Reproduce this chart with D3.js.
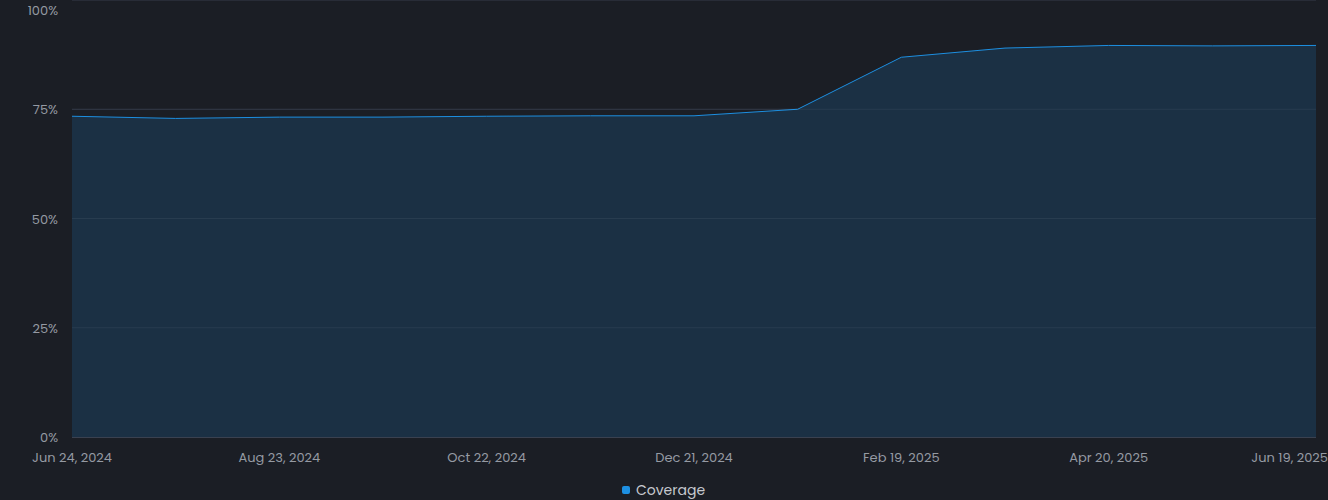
<!DOCTYPE html>
<html><head><meta charset="utf-8">
<script src="https://cdn.jsdelivr.net/npm/d3@7"></script>
<style>
body{margin:0;background:#1b1e25;font-family:Poppins,"Open Sans",sans-serif;}
</style></head>
<body><svg id="c" width="1328" height="500"></svg>
<script>
// coverage samples, every 30 days
const dates = ['2024-06-24','2024-07-24','2024-08-23','2024-09-22','2024-10-22','2024-11-21','2024-12-21','2025-01-20','2025-02-19','2025-03-21','2025-04-20','2025-05-20','2025-06-19']
const coverage = [73.4, 72.9, 73.2, 73.2, 73.4, 73.5, 73.5, 75.0, 86.9, 89.0, 89.6, 89.5, 89.6]
const tickDates = ['2024-06-24','2024-08-23','2024-10-22','2024-12-21','2025-02-19','2025-04-20','2025-06-19']
const yTicks = [0, 25, 50, 75, 100]

const parse = d3.utcParse('%Y-%m-%d')
const data = dates.map((d, i) => ({date: parse(d), value: coverage[i]}))

const svg = d3.select('#c')
const x = d3.scaleUtc().domain(d3.extent(data, d => d.date)).range([72, 1316])
const y = d3.scaleLinear().domain([0, 100]).range([437, 0])

// grid
svg.selectAll('.grid').data(yTicks).enter().append('line')
  .attr('x1', 72).attr('x2', 1316)
  .attr('y1', d => y(d)).attr('y2', d => y(d))
  .attr('stroke', '#2a3140').attr('stroke-width', 1)

const area = d3.area().x(d => x(d.date)).y0(y(0)).y1(d => y(d.value))
svg.append('path').datum(data).attr('d', area).attr('fill', '#1b3044')
const line = d3.line().x(d => x(d.date)).y(d => y(d.value))
svg.append('path').datum(data).attr('d', line).attr('fill', 'none').attr('stroke', '#1d8fe1').attr('stroke-width', 1)

svg.selectAll('.gridTop').data(yTicks.filter(d => d > 0)).enter().append('line')
  .attr('x1', 72).attr('x2', 1316)
  .attr('y1', d => y(d)).attr('y2', d => y(d))
  .attr('stroke', '#ffffff').attr('stroke-opacity', 0.06)

svg.append('line').attr('x1', 72).attr('x2', 1316).attr('y1', 437.5).attr('y2', 437.5).attr('stroke', '#3a4150')

// y labels
svg.selectAll('.yl').data(yTicks).enter().append('text')
  .attr('x', 58).attr('y', d => Math.max(y(d) + 5, 15)).attr('text-anchor', 'end')
  .attr('fill', '#959aa3').attr('font-size', 13)
  .text(d => d + '%')

const fmt = d3.utcFormat('%b %d, %Y')
svg.selectAll('.xl').data(tickDates.map(parse)).enter().append('text')
  .attr('x', (d, i) => i === tickDates.length - 1 ? 1328 : x(d))
  .attr('y', 462)
  .attr('text-anchor', (d, i) => i === tickDates.length - 1 ? 'end' : 'middle')
  .attr('fill', '#959aa3').attr('font-size', 13)
  .text(fmt)

// legend
svg.append('rect').attr('x', 622).attr('y', 486).attr('width', 8).attr('height', 8).attr('rx', 2).attr('fill', '#1d8fe1')
svg.append('text').attr('x', 636).attr('y', 495).attr('fill', '#c6c9cf').attr('font-size', 14).text('Coverage')
</script></body></html>
